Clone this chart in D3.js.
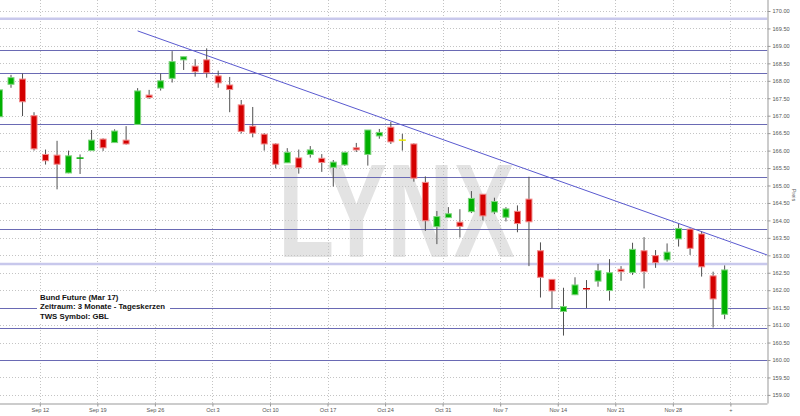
<!DOCTYPE html>
<html>
<head>
<meta charset="utf-8">
<script src="https://cdn.jsdelivr.net/npm/d3@7"></script>
<style>
html,body{margin:0;padding:0;background:#fff;}
svg{display:block;font-family:"Liberation Sans",Arial,sans-serif;}
</style>
</head>
<body>
<svg id="chart" width="800" height="416"></svg>
<script>
// ---------- DATA ----------
const dates = [
 "2016-09-06","2016-09-07","2016-09-08","2016-09-09",
 "2016-09-12","2016-09-13","2016-09-14","2016-09-15","2016-09-16",
 "2016-09-19","2016-09-20","2016-09-21","2016-09-22","2016-09-23",
 "2016-09-26","2016-09-27","2016-09-28","2016-09-29","2016-09-30",
 "2016-10-03","2016-10-04","2016-10-05","2016-10-06","2016-10-07",
 "2016-10-10","2016-10-11","2016-10-12","2016-10-13","2016-10-14",
 "2016-10-17","2016-10-18","2016-10-19","2016-10-20","2016-10-21",
 "2016-10-24","2016-10-25","2016-10-26","2016-10-27","2016-10-28",
 "2016-10-31","2016-11-01","2016-11-02","2016-11-03","2016-11-04",
 "2016-11-07","2016-11-08","2016-11-09","2016-11-10","2016-11-11",
 "2016-11-14","2016-11-15","2016-11-16","2016-11-17","2016-11-18",
 "2016-11-21","2016-11-22","2016-11-23","2016-11-24","2016-11-25",
 "2016-11-28","2016-11-29","2016-11-30","2016-12-01","2016-12-02"
];
const open = [
 166.97,167.90,168.05,167.00,
 165.89,165.87,165.36,165.78,166.00,
 166.33,166.23,166.30,166.75,167.59,
 167.79,168.07,168.60,168.42,168.60,
 168.14,167.88,167.31,166.70,166.47,
 166.19,165.65,165.79,165.89,165.78,
 165.52,165.59,166.08,165.89,166.42,
 166.67,166.30,166.19,165.09,163.82,
 164.08,163.95,164.25,164.75,164.24,
 164.09,164.26,164.61,163.13,162.31,
 161.39,161.87,162.05,162.26,161.99,
 162.60,162.51,163.13,162.99,162.87,
 163.47,163.75,163.61,162.41,161.31
];
const high = [
 167.76,168.17,168.21,167.10,
 166.03,166.28,166.00,165.89,166.59,
 166.35,166.61,166.70,167.79,167.74,
 168.21,168.85,168.69,168.62,168.93,
 168.29,168.11,167.45,167.25,166.50,
 166.21,166.07,166.03,166.13,165.90,
 165.73,165.97,166.22,166.59,166.62,
 166.82,166.48,166.21,165.26,164.27,
 164.38,164.32,164.84,164.75,164.65,
 164.38,164.43,165.25,163.37,162.31,
 162.07,162.37,162.29,162.75,162.89,
 162.69,163.36,163.52,163.15,163.34,
 163.90,163.77,163.68,162.53,162.71
];
const low = [
 166.95,167.80,166.99,166.00,
 165.60,164.89,165.35,165.33,166.00,
 165.99,166.23,166.17,166.75,167.48,
 167.72,167.95,168.31,168.12,168.09,
 167.80,167.10,166.49,166.38,166.00,
 165.49,165.65,165.34,165.80,165.39,
 164.97,165.56,165.96,165.57,166.34,
 166.19,166.00,165.11,163.70,163.32,
 164.08,163.51,164.21,164.00,164.18,
 163.97,163.66,162.69,161.79,161.48,
 160.70,161.86,161.49,162.10,161.70,
 162.27,162.44,162.05,162.64,162.82,
 163.25,163.01,162.39,160.93,161.17
];
const close = [
 167.74,168.09,167.40,166.05,
 165.71,165.61,165.85,165.79,166.30,
 166.08,166.56,166.19,167.71,167.52,
 168.00,168.55,168.69,168.26,168.23,
 167.94,167.75,166.55,166.50,166.19,
 165.61,165.95,165.51,166.02,165.66,
 165.67,165.95,166.02,166.59,166.52,
 166.25,166.30,165.21,163.99,164.11,
 164.19,163.83,164.63,164.13,164.54,
 164.33,163.91,163.96,162.37,161.98,
 161.53,162.15,162.03,162.56,162.50,
 162.53,163.17,162.53,162.79,163.09,
 163.77,163.20,162.67,161.75,162.58
];
// support / resistance lines drawn on the chart
const levels = [168.87, 168.22, 166.75, 165.25, 163.74, 161.50, 160.92, 160.01];
const softLevels = [169.78, 162.75];
// down-trend line: two anchor points (date, price), extended to the right edge
const trendDates = ["2016-09-22", "2016-12-01"];
const trendValues = [169.43, 163.56];
// axis ticks
const weekStarts = ["2016-09-12","2016-09-19","2016-09-26","2016-10-03","2016-10-10","2016-10-17",
                    "2016-10-24","2016-10-31","2016-11-07","2016-11-14","2016-11-21","2016-11-28","2016-12-05"];
const weekLabels = ["Sep 12","Sep 19","Sep 26","Oct 3","Oct 10","Oct 17","Oct 24","Oct 31",
                    "Nov 7","Nov 14","Nov 21","Nov 28","+"];
const priceTicks = d3.range(159, 170.001, 0.5);
const legendLines = ["Bund Future (Mar 17)", "Zeitraum: 3 Monate - Tageskerzen", "TWS Symbol: GBL"];
const yTitle = "Preis";
const watermark = "LYNX";

// ---------- LAYOUT ----------
const svg = d3.select("#chart");
const plotRight = 767.5, plotBottom = 403.5;
const step = 11.51;
const x = d3.scaleLinear().domain([0, dates.length - 1]).range([-0.5, -0.5 + step * (dates.length - 1)]);
const y = d3.scaleLinear().domain([159, 170]).range([394.9, 11]);
const idxOf = d => { const i = dates.indexOf(d); return i >= 0 ? i : dates.length; };

const defs = svg.append("defs");
defs.append("clipPath").attr("id", "plotclip").append("rect")
  .attr("x", 0).attr("y", 0).attr("width", plotRight).attr("height", plotBottom);

const plot = svg.append("g").attr("clip-path", "url(#plotclip)");

// watermark
plot.append("text")
  .attr("x", 278).attr("y", 256.5)
  .attr("font-size", 134).attr("font-weight", "bold")
  .attr("textLength", 237).attr("lengthAdjust", "spacingAndGlyphs")
  .attr("fill", "#e3e3e3")
  .text(watermark);

// horizontal dotted grid
plot.append("g").selectAll("line").data(priceTicks).join("line")
  .attr("x1", 0).attr("x2", plotRight)
  .attr("y1", d => Math.round(y(d)) + 0.5).attr("y2", d => Math.round(y(d)) + 0.5)
  .attr("stroke", "#c4c4c4").attr("stroke-dasharray", "1,2");

// vertical dotted grid
plot.append("g").selectAll("line").data(weekStarts).join("line")
  .attr("x1", d => Math.round(x(idxOf(d) - 0.5)) + 0.5).attr("x2", d => Math.round(x(idxOf(d) - 0.5)) + 0.5)
  .attr("y1", 0).attr("y2", plotBottom)
  .attr("stroke", "#c4c4c4").attr("stroke-dasharray", "1,2");

// soft (light) levels
plot.append("g").selectAll("line").data(softLevels).join("line")
  .attr("x1", 0).attr("x2", plotRight)
  .attr("y1", d => y(d)).attr("y2", d => y(d))
  .attr("stroke", "#c8c8ec").attr("stroke-width", 2.5);

// levels
plot.append("g").selectAll("line").data(levels).join("line")
  .attr("x1", 0).attr("x2", plotRight)
  .attr("y1", d => Math.round(y(d)) + 0.5).attr("y2", d => Math.round(y(d)) + 0.5)
  .attr("stroke", "#6a6ab4").attr("stroke-width", 1.2);

// trend line
{
  const i0 = idxOf(trendDates[0]), i1 = idxOf(trendDates[1]);
  const slope = (trendValues[1] - trendValues[0]) / (i1 - i0);
  const iEnd = x.invert(plotRight);
  const vEnd = trendValues[0] + slope * (iEnd - i0);
  plot.append("line")
    .attr("x1", x(i0)).attr("y1", y(trendValues[0]))
    .attr("x2", x(iEnd)).attr("y2", y(vEnd))
    .attr("stroke", "#5a5ad0").attr("stroke-width", 1);
}

// candles
const candles = dates.map((d, i) => ({ i, o: open[i], h: high[i], l: low[i], c: close[i] }));
const cg = plot.append("g");
const bw = 6;
candles.forEach(k => {
  const cx = x(k.i);
  const up = k.c > k.o, flat = k.c === k.o;
  const fill = flat ? "#e8e800" : (up ? "#00b000" : "#d40000");
  const edge = flat ? "#f0f080" : (up ? "#7fd47f" : "#f08a8a");
  cg.append("line")
    .attr("x1", cx).attr("x2", cx)
    .attr("y1", y(k.h)).attr("y2", y(k.l))
    .attr("stroke", "#505050").attr("stroke-width", 1);
  const yt = y(Math.max(k.o, k.c)), yb = y(Math.min(k.o, k.c));
  if (yb - yt < 1.6) {
    cg.append("line")
      .attr("x1", cx - bw / 2 - 0.5).attr("x2", cx + bw / 2 + 0.5)
      .attr("y1", (yt + yb) / 2).attr("y2", (yt + yb) / 2)
      .attr("stroke", fill).attr("stroke-width", 1.5);
  } else {
    cg.append("rect")
      .attr("x", cx - bw / 2).attr("width", bw)
      .attr("y", yt).attr("height", yb - yt)
      .attr("fill", fill).attr("stroke", edge).attr("stroke-width", 1);
  }
});

// legend box
const lg = svg.append("g");
lg.append("rect").attr("x", 37).attr("y", 292).attr("width", 133).attr("height", 30).attr("fill", "#fff");
lg.selectAll("text").data(legendLines).join("text")
  .attr("x", 40).attr("y", (d, i) => 299.8 + i * 9.5)
  .attr("font-size", 7.8).attr("font-weight", "bold").attr("fill", "#111")
  .text(d => d);

// axes
const yAxis = d3.axisRight(y).tickValues(priceTicks).tickSize(3).tickPadding(2)
  .tickFormat(d3.format(".2f"));
const gy = svg.append("g").attr("transform", `translate(${plotRight},0)`).call(yAxis);
gy.select(".domain").attr("d", `M0.5,0V${plotBottom}`).attr("stroke", "#999");
gy.selectAll(".tick line").attr("stroke", "#999");
gy.selectAll(".tick text").attr("font-size", 5.6).attr("fill", "#555")
  .attr("font-family", "'Liberation Sans',Arial,sans-serif");

const xAxis = d3.axisBottom(x).tickValues(weekStarts.map(d => idxOf(d) - 0.5))
  .tickSize(3).tickPadding(2).tickFormat((d, i) => weekLabels[i]);
const gx = svg.append("g").attr("transform", `translate(0,${plotBottom})`).call(xAxis);
gx.select(".domain").attr("d", `M0,0.5H${plotRight}`).attr("stroke", "#999");
gx.selectAll(".tick line").attr("stroke", "#999");
gx.selectAll(".tick text").attr("font-size", 5.6).attr("fill", "#555")
  .attr("font-family", "'Liberation Sans',Arial,sans-serif");

// y title
svg.append("text")
  .attr("transform", `translate(792,195) rotate(90)`)
  .attr("text-anchor", "middle")
  .attr("font-size", 5.6).attr("fill", "#555")
  .text(yTitle);
</script>
</body>
</html>
